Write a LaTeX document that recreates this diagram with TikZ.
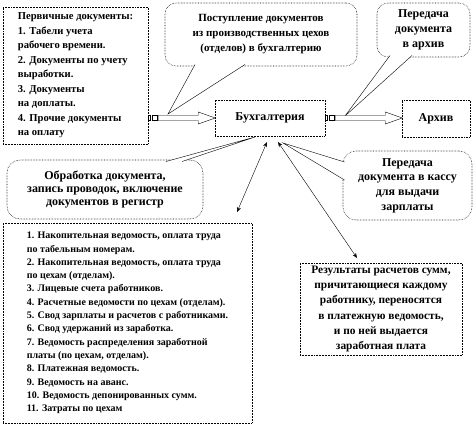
\documentclass[tikz,border=0pt]{standalone}
\usepackage{fontspec}
\setmainfont{Liberation Serif}
\usetikzlibrary{arrows.meta}

\tikzset{
	txt/.style 2 args={font=\bfseries\fontsize{#1}{#2}\selectfont},
	doc/.style={draw, densely dotted, line width=0.55pt, inner sep=0pt, align=left},
	bubble/.style={doc, rounded corners=11pt, align=center},
	tail/.style={line width=0.4pt},
	link/.style={line width=0.4pt, {Stealth[length=5pt,width=4pt]}-{Stealth[length=5pt,width=4pt]}},
	pics/striped/.style={code={
		\draw[line width=0.4pt] (0,-2.5) rectangle (1.5,2.5);
		\draw[line width=0.4pt] (4,-2.5) rectangle (9,2.5);
		\draw[line width=0.4pt, fill=white] (10,-2.5) -- ({#1-17},-2.5) -- ({#1-17},-6) -- (#1,0)
			-- ({#1-17},6) -- ({#1-17},2.5) -- (10,2.5) -- cycle;
	}},
}

\begin{document}
\begin{tikzpicture}[x=1pt,y=-1pt]
	\useasboundingbox (0,0) rectangle (474,431);
	% boxes
	\node[doc, txt={10.6}{14.5}, minimum width=145pt, minimum height=137pt] (prim) at (75.5,75.5) {Первичные документы:\\1. Табели учета\\рабочего времени.\\2. Документы по учету\\выработки.\\3. Документы\\на доплаты.\\4. Прочие документы\\на оплату};
	\node[doc, txt={12}{14}, minimum width=110pt, minimum height=36pt] (buh) at (270,118) {Бухгалтерия};
	\node[doc, txt={12}{14}, minimum width=68pt, minimum height=37pt] (arch) at (436,118.5) {Архив};
	\node[doc, txt={10}{13.3}, minimum width=249pt, minimum height=200pt] (reg) at (127.5,323) {1. Накопительная ведомость, оплата труда\\по табельным номерам.\\2. Накопительная ведомость, оплата труда\\по цехам (отделам).\\3. Лицевые счета работников.\\4. Расчетные ведомости по цехам (отделам).\\5. Свод зарплаты и расчетов с работниками.\\6. Свод удержаний из заработка.\\7. Ведомость распределения заработной\\платы (по цехам, отделам).\\8. Платежная ведомость.\\9. Ведомость на аванс.\\10. Ведомость депонированных сумм.\\11. Затраты по цехам};
	\node[doc, txt={11.4}{15.2}, align=center, minimum width=162pt, minimum height=92pt] (res) at (381,309) {Результаты расчетов сумм,\\причитающиеся каждому\\работнику, переносятся\\в платежную ведомость,\\и по ней выдается\\заработная плата};
	% bubbles
	\node[bubble, txt={11}{15}, minimum width=192pt, minimum height=63pt] (post) at (261,34.5) {Поступление документов\\из производственных цехов\\(отделов) в бухгалтерию};
	\node[bubble, txt={12}{15}, minimum width=93pt, minimum height=54pt] (pera) at (423.5,30) {Передача\\документа\\в архив};
	\node[bubble, txt={12}{13}, rounded corners=13pt, minimum width=196pt, minimum height=59pt] (obr) at (105,189.5) {Обработка документа,\\запись проводок, включение\\документов в регистр};
	\node[bubble, txt={12}{14.7}, rounded corners=13pt, minimum width=129pt, minimum height=69pt] (perk) at (407.5,185.5) {Передача\\документа в кассу\\для выдачи\\зарплаты};
	\coordinate (T1) at (168,114);
	\coordinate (T1a) at (195,64.5);
	\coordinate (T1b) at (245,64.5);
	\coordinate (T2) at (345,116);
	\coordinate (T2a) at (390,55.5);
	\coordinate (T2b) at (412,55.5);
	\coordinate (T3) at (255,137);
	\coordinate (T3a) at (166,161.5);
	\coordinate (T3b) at (182,161.5);
	\coordinate (T4) at (283,143);
	\coordinate (T4a) at (344.5,162);
	\coordinate (T4b) at (344.5,180);
	\foreach \t in {1,2,3,4} {
		\fill[white] (T\t a) -- (T\t) -- (T\t b) -- cycle;
		\draw[tail] (T\t a) -- (T\t) -- (T\t b);
	}
	% striped arrows
	\pic at (prim.east |- buh.west) {striped=67};
	\pic at (buh.east) {striped=77};
	% links to the registers
	\coordinate (L1a) at (267,142);
	\coordinate (L1b) at (237,212);
	\coordinate (L2a) at (278,142);
	\coordinate (L2b) at (357,258);
	\draw[link] (L1a) -- (L1b);
	\draw[link] (L2a) -- (L2b);
\end{tikzpicture}
\end{document}
